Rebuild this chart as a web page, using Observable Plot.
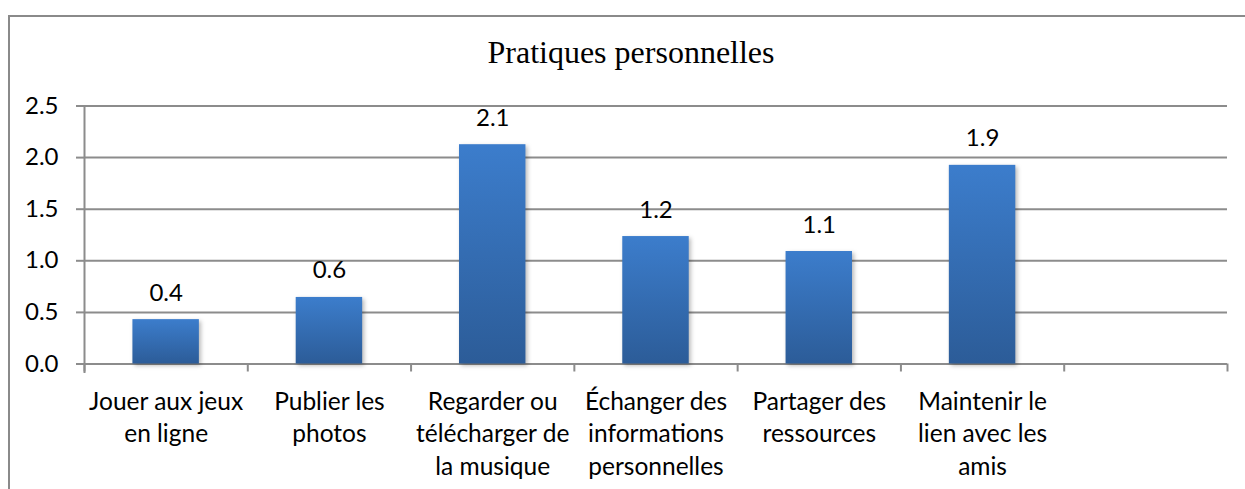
<!DOCTYPE html>
<html>
<head>
<meta charset="utf-8">
<script src="https://cdn.jsdelivr.net/npm/d3@7"></script>
<script src="https://cdn.jsdelivr.net/npm/@observablehq/plot@0.6"></script>
<style>
  html, body { margin: 0; padding: 0; background: #fff; }
  #wrap { position: relative; width: 1245px; height: 489px; overflow: hidden; }
  #frame { position: absolute; left: 8px; top: 15px; width: 1250px; height: 500px;
           border-left: 2px solid #8a8a8a; border-top: 2px solid #8a8a8a; box-sizing: border-box; }
  #title { position: absolute; left: 8px; width: 1246px; top: 34px; text-align: center; line-height: 1.15;
           font-family: "Liberation Serif", "Times New Roman", serif; font-size: 32px; color: #000; }
  #chart { position: absolute; left: 0; top: 80px; }
</style>
</head>
<body>
<div id="wrap">
  <div id="frame"></div>
  <div id="title">Pratiques personnelles</div>
  <div id="chart"></div>
</div>
<script>
const categories = [
  "Jouer aux jeux\nen ligne",
  "Publier les\nphotos",
  "Regarder ou\ntélécharger de\nla musique",
  "Échanger des\ninformations\npersonnelles",
  "Partager des\nressources",
  "Maintenir le\nlien avec les\namis"
];
const values = [0.43, 0.645, 2.125, 1.235, 1.09, 1.925];
const valueLabels = ["0.4", "0.6", "2.1", "1.2", "1.1", "1.9"];
const yTicks = [0, 0.5, 1.0, 1.5, 2.0, 2.5];

const data = categories.map((c, i) => ({category: c, value: values[i], label: valueLabels[i]}));
const domain = [...categories, ""];

const W = 1245, H = 409;
const mL = 84, mR = 18, mT = 25.5, mB = 125.5;
const step = (W - mL - mR) / domain.length;
const grid = "#8c8c8c";
const font = "Lato, 'Open Sans', sans-serif";

const plot = Plot.plot({
  width: W, height: H,
  marginLeft: mL, marginRight: mR, marginTop: mT, marginBottom: mB,
  style: {fontFamily: font, fontSize: "24px", color: "#000", background: "transparent", overflow: "visible"},
  x: {domain, paddingInner: 0.593, paddingOuter: 0.2965, round: false, axis: null},
  y: {domain: [0, 2.5], axis: null, label: null},
  marks: [
    Plot.gridY(yTicks, {stroke: grid, strokeOpacity: 1, strokeWidth: 2}),
    Plot.axisY(yTicks, {tickSize: 8, tickPadding: 18, stroke: grid, strokeWidth: 2, tickFormat: d3.format(".1f"), fontSize: 24, fill: "#000", label: null}),
    Plot.frame({anchor: "left", stroke: grid, strokeWidth: 2, insetBottom: -8}),
    Plot.ruleX(domain, {x: d => d, dx: -step / 2, y1: 0, y2: 0, insetBottom: -8, stroke: grid, strokeWidth: 2}),
    Plot.ruleX([domain[domain.length - 1]], {x: d => d, dx: step / 2, y1: 0, y2: 0, insetBottom: -8, stroke: grid, strokeWidth: 2}),
    Plot.barY(data, {x: "category", y: "value", fill: "url(#barGrad)", className: "bars"}),
    Plot.text(data, {x: "category", y: "value", text: "label", dy: -19, lineAnchor: "bottom", fontSize: 24, fill: "#000"}),
    Plot.text(data, {x: "category", y: 0, text: "category", dy: 23, lineAnchor: "top", lineHeight: 1.32, fontSize: 24.5, fill: "#000"})
  ]
});

const defs = d3.select(plot).insert("defs", ":first-child");
const g = defs.append("linearGradient").attr("id", "barGrad").attr("x1", 0).attr("y1", 0).attr("x2", 0).attr("y2", 1);
g.append("stop").attr("offset", "0%").attr("stop-color", "#3c7dcc");
g.append("stop").attr("offset", "100%").attr("stop-color", "#2c5c98");
d3.select(plot).selectAll("g.bars").style("filter", "drop-shadow(2px 2px 2px rgba(0,0,0,0.28))");

document.getElementById("chart").appendChild(plot);
</script>
</body>
</html>
